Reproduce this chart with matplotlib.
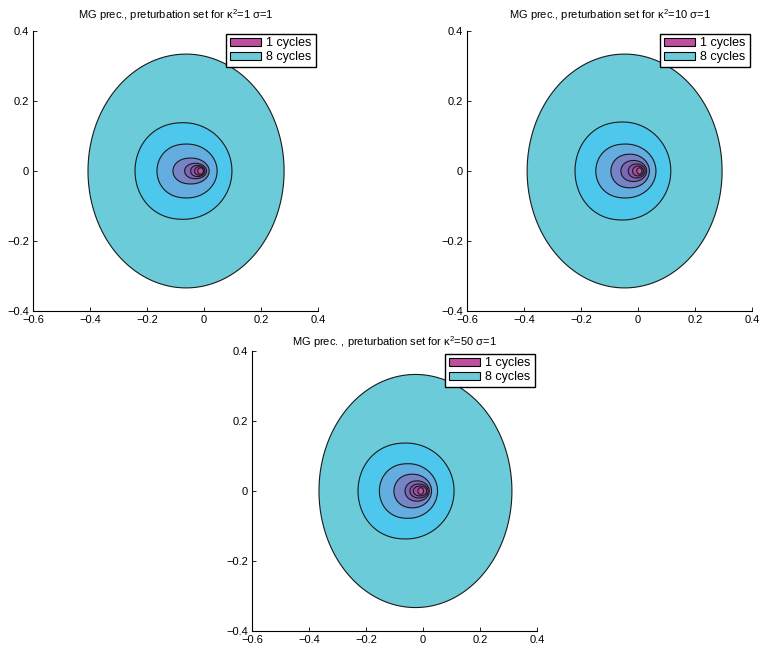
import numpy as np
import matplotlib.pyplot as plt
from matplotlib.patches import Patch

plt.rcParams['font.family'] = ['Liberation Sans', 'DejaVu Sans']
plt.rcParams['mathtext.fontset'] = 'custom'
plt.rcParams['mathtext.rm'] = 'Liberation Sans'
plt.rcParams['mathtext.it'] = 'Liberation Sans:italic'

# cycles 1..8, extents of each perturbation set
cycles = [1, 2, 3, 4, 5, 6, 7, 8]

titles = ['MG prec., preturbation set for κ$^{2}$=1 σ=1',
          'MG prec., preturbation set for κ$^{2}$=10 σ=1',
          'MG prec. , preturbation set for κ$^{2}$=50 σ=1']

left_k1 = [-0.022, -0.033, -0.047, -0.068, -0.109, -0.165, -0.242, -0.407]
right_k1 = [-0.002, 0.000, 0.003, 0.009, 0.018, 0.046, 0.098, 0.281]
half_h_k1 = [0.009, 0.012, 0.016, 0.022, 0.037, 0.077, 0.138, 0.334]

left_k10 = [-0.004, -0.019, -0.034, -0.060, -0.095, -0.148, -0.221, -0.389]
right_k10 = [0.014, 0.019, 0.025, 0.030, 0.040, 0.063, 0.115, 0.295]
half_h_k10 = [0.009, 0.014, 0.020, 0.030, 0.048, 0.077, 0.140, 0.334]

left_k50 = [-0.018, -0.034, -0.046, -0.063, -0.102, -0.153, -0.228, -0.365]
right_k50 = [0.002, 0.013, 0.018, 0.022, 0.030, 0.051, 0.109, 0.312]
half_h_k50 = [0.0095, 0.014, 0.020, 0.029, 0.048, 0.078, 0.137, 0.333]

xticks = [-0.6, -0.4, -0.2, 0, 0.2, 0.4]
xticklabels = ['\u22120.6', '\u22120.4', '\u22120.2', '0', '0.2', '0.4']
yticks = [-0.4, -0.2, 0, 0.2, 0.4]
yticklabels = ['\u22120.4', '\u22120.2', '0', '0.2', '0.4']

colors = ['#C04EA0', '#A04FA6', '#8A57AD', '#7C66B6', '#7683C4',
          '#63ADE0', '#4DC8EC', '#6BCBD9']
# how square the left side of each set is (1 = ellipse)
flat = [1.0, 0.95, 0.92, 0.9, 0.88, 0.86, 0.9, 1.0]

sets = [(left_k1, right_k1, half_h_k1),
        (left_k10, right_k10, half_h_k10),
        (left_k50, right_k50, half_h_k50)]


def outline(xl, xr, h, p, n=400):
    t = np.linspace(0, 2 * np.pi, n)
    c = np.cos(t)
    c = np.where(c < 0, -np.abs(c) ** p, c)
    return (xl + xr) / 2 + (xr - xl) / 2 * c, h * np.sin(t)


fig = plt.figure(figsize=(7.63, 6.45), dpi=100)
W, H = 763, 645
boxes = [(33, 31), (467, 31), (252, 351)]  # left, top in pixels
pads = [8.5, 8.5, 3.5]
for (px, py), (lf, rt, hh), title, pad in zip(boxes, sets, titles, pads):
    ax = fig.add_axes([px / W, 1 - (py + 280) / H, 285 / W, 280 / H])
    for i in range(len(cycles) - 1, -1, -1):
        x, y = outline(lf[i], rt[i], hh[i], flat[i])
        ax.fill(x, y, facecolor=colors[i], edgecolor='#1a1a1a', linewidth=0.8)
    ax.set_xlim(-0.6, 0.4)
    ax.set_ylim(-0.4, 0.4)
    ax.set_xticks(xticks)
    ax.set_xticklabels(xticklabels)
    ax.set_yticks(yticks)
    ax.set_yticklabels(yticklabels)
    ax.tick_params(direction='in', length=3, width=0.6, labelsize=8, pad=3)
    ax.spines['top'].set_visible(False)
    ax.spines['right'].set_visible(False)
    ax.spines['left'].set_linewidth(0.8)
    ax.spines['bottom'].set_linewidth(0.8)
    ax.set_title(title, fontsize=8, pad=pad)
    handles = [Patch(facecolor=colors[0], edgecolor='black', linewidth=0.8),
               Patch(facecolor=colors[-1], edgecolor='black', linewidth=0.8)]
    leg = ax.legend(handles, ['1 cycles', '8 cycles'], loc='upper right',
                    fontsize=9, fancybox=False, framealpha=1, edgecolor='black',
                    handlelength=2.5, handleheight=0.6, handletextpad=0.4,
                    labelspacing=0.15, borderpad=0.3, borderaxespad=0.2)
    leg.get_frame().set_linewidth(1.0)

fig.savefig('out.png', dpi=100)
